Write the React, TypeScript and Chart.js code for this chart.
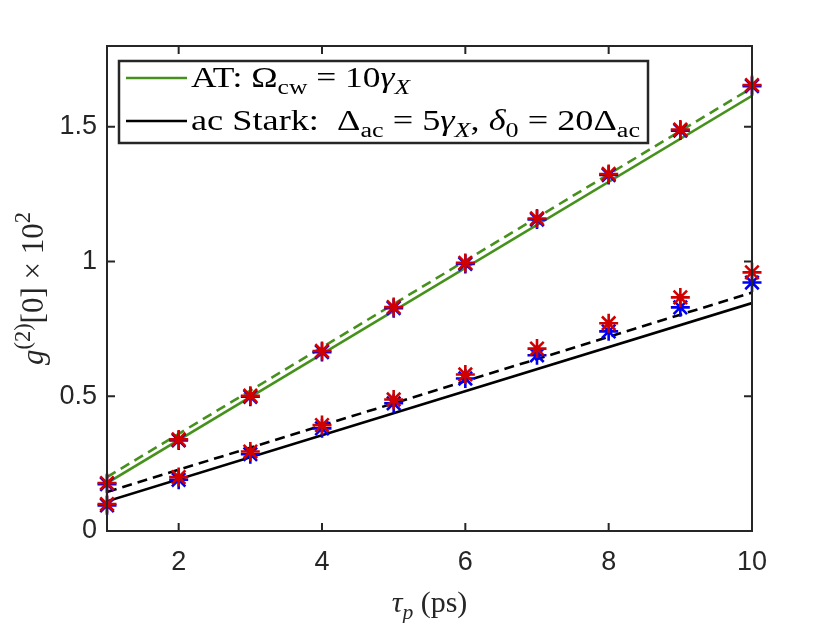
import React, { useEffect, useRef } from "react";
import { Chart, registerables } from "chart.js";

Chart.register(...registerables);

// ---------- data ----------
const tau = [1, 2, 3, 4, 5, 6, 7, 8, 9, 10];
const atRed = [0.178, 0.34, 0.502, 0.668, 0.831, 0.995, 1.16, 1.325, 1.49, 1.655];
const atBlue = [0.174, 0.336, 0.498, 0.664, 0.827, 0.991, 1.156, 1.321, 1.486, 1.651];
const acRed = [0.1, 0.2, 0.295, 0.393, 0.488, 0.581, 0.677, 0.771, 0.867, 0.96];
const acBlue = [0.095, 0.19, 0.285, 0.381, 0.474, 0.566, 0.652, 0.741, 0.83, 0.922];
const lineX = [1, 10];
const atSolid = [0.178, 1.615];
const atDashed = [0.2, 1.645];
const acSolid = [0.11, 0.846];
const acDashed = [0.145, 0.885];
const xTicks = [2, 4, 6, 8, 10];
const yTicks = [0, 0.5, 1, 1.5];

// rich text segments: [text, flags] flags: i=italic, b=subscript, p=superscript
type Seg = [string, string];
const EQ = " = ";
const legendRows: Seg[][] = [
  [["AT: Ω", ""], ["cw", "b"], [EQ + "10", ""], ["γ", "i"], ["X", "ib"]],
  [
    ["ac Stark:\u2002Δ", ""], ["ac", "b"], [EQ + "5", ""], ["γ", "i"], ["X", "ib"],
    [", ", ""], ["δ", "i"], ["0", "b"], [EQ + "20Δ", ""], ["ac", "b"],
  ],
];
const yLabel: Seg[] = [["g", "i"], ["(2)", "p"], ["[0] × 10", ""], ["2", "p"]];
const xLabel: Seg[] = [["τ", "i"], ["p", "ib"], ["\u2005(ps)", ""]];

const GREEN = "#46911c";
const BLACK = "#000000";
const RED = "#d10000";
const BLUE = "#0000f0";
const AXIS = "#262626";
const SERIF = "'Liberation Serif', 'DejaVu Serif', serif";
const SANS = "'Liberation Sans', Arial, sans-serif";

function segFont(flags: string, size: number) {
  const s = flags.includes("b") || flags.includes("p") ? size * 0.72 : size;
  return `${flags.includes("i") ? "italic " : ""}${s}px ${SERIF}`;
}

function drawRich(
  ctx: CanvasRenderingContext2D,
  segs: Seg[],
  x: number,
  y: number,
  size: number,
  align: "left" | "center",
  targetWidth = 0
) {
  let total = 0;
  for (const [t, f] of segs) {
    ctx.font = segFont(f, size);
    total += ctx.measureText(t).width;
  }
  const sx = targetWidth > 0 ? targetWidth / total : 1;
  ctx.save();
  ctx.translate(x, y);
  ctx.scale(sx, 1);
  let cx = align === "center" ? -total / 2 : 0;
  ctx.textBaseline = "alphabetic";
  ctx.textAlign = "left";
  for (const [t, f] of segs) {
    ctx.font = segFont(f, size);
    let dy = 0;
    if (f.includes("b")) dy = size * 0.22;
    if (f.includes("p")) dy = -size * 0.42;
    ctx.fillText(t, cx, dy);
    cx += ctx.measureText(t).width;
  }
  ctx.restore();
}

const framePlugin = {
  id: "frame",
  afterDraw(chart: any) {
    const ctx: CanvasRenderingContext2D = chart.ctx;
    const a = chart.chartArea;
    const xs = chart.scales.x;
    const ys = chart.scales.y;
    ctx.save();
    ctx.strokeStyle = AXIS;
    ctx.lineWidth = 2;
    ctx.strokeRect(a.left, a.top, a.right - a.left, a.bottom - a.top);
    const L = 8;
    ctx.beginPath();
    for (const v of xTicks) {
      const px = xs.getPixelForValue(v);
      ctx.moveTo(px, a.bottom);
      ctx.lineTo(px, a.bottom - L);
      ctx.moveTo(px, a.top);
      ctx.lineTo(px, a.top + L);
    }
    for (const v of yTicks) {
      const py = ys.getPixelForValue(v);
      ctx.moveTo(a.left, py);
      ctx.lineTo(a.left + L, py);
      ctx.moveTo(a.right, py);
      ctx.lineTo(a.right - L, py);
    }
    ctx.stroke();

    // axis titles
    ctx.fillStyle = AXIS;
    drawRich(ctx, xLabel, (a.left + a.right) / 2, 612, 30, "center");
    ctx.save();
    ctx.translate(43, (a.top + a.bottom) / 2);
    ctx.rotate(-Math.PI / 2);
    drawRich(ctx, yLabel, 0, 0, 31, "center");
    ctx.restore();

    // legend
    const lx = 119, ly = 61, lw = 529, lh = 82;
    ctx.fillStyle = "#ffffff";
    ctx.fillRect(lx, ly, lw, lh);
    ctx.strokeStyle = AXIS;
    ctx.lineWidth = 2.5;
    ctx.strokeRect(lx, ly, lw, lh);
    const rowY = [78, 121];
    const rowBase = [87, 130];
    const rowW = [219, 449];
    const rowColor = [GREEN, BLACK];
    for (let i = 0; i < 2; i++) {
      ctx.strokeStyle = rowColor[i];
      ctx.lineWidth = 2.5;
      ctx.beginPath();
      ctx.moveTo(126, rowY[i]);
      ctx.lineTo(187, rowY[i]);
      ctx.stroke();
      ctx.fillStyle = "#000000";
      drawRich(ctx, legendRows[i], 191, rowBase[i], 30, "left", rowW[i]);
    }
    ctx.restore();
  },
};

function pts(ys: number[], xs: number[] = tau) {
  return xs.map((x, i) => ({ x, y: ys[i] }));
}

export default function App() {
  const ref = useRef<HTMLCanvasElement>(null);
  useEffect(() => {
    if (!ref.current) return;
    const star = (data: number[], color: string, order: number) => ({
      type: "line" as const,
      data: pts(data),
      showLine: false,
      pointStyle: "star",
      pointRadius: 9.5,
      pointBorderWidth: 2.6,
      pointBorderColor: color,
      pointBackgroundColor: color,
      borderColor: color,
      clip: false,
      order,
    });
    const ln = (data: number[], color: string, dashed: boolean) => ({
      type: "line" as const,
      data: pts(data, lineX),
      borderColor: color,
      borderWidth: 2.6,
      borderDash: dashed ? [10, 6] : [],
      pointRadius: 0,
      fill: false,
      order: 5,
    });
    const chart = new Chart(ref.current, {
      type: "line",
      data: {
        datasets: [
          ln(atSolid, GREEN, false),
          ln(atDashed, GREEN, true),
          ln(acSolid, BLACK, false),
          ln(acDashed, BLACK, true),
          star(atBlue, BLUE, 3),
          star(acBlue, BLUE, 3),
          star(atRed, RED, 1),
          star(acRed, RED, 1),
        ] as any,
      },
      options: {
        animation: false,
        responsive: false,
        layout: { padding: { left: 0, top: 46, right: 78, bottom: 0 } },
        plugins: { legend: { display: false }, tooltip: { enabled: false } },
        scales: {
          x: {
            type: "linear",
            min: 1,
            max: 10,
            afterBuildTicks: (s: any) => {
              s.ticks = xTicks.map((v) => ({ value: v }));
            },
            afterFit: (s: any) => {
              s.height = 92;
            },
            grid: { display: false, drawTicks: false },
            border: { display: false },
            ticks: {
              color: AXIS,
              font: { family: SANS, size: 27 },
              padding: 15,
              maxRotation: 0,
              autoSkip: false,
              callback: (v: any) => String(v),
            },
          },
          y: {
            type: "linear",
            min: 0,
            max: 1.8,
            afterBuildTicks: (s: any) => {
              s.ticks = yTicks.map((v) => ({ value: v }));
            },
            afterFit: (s: any) => {
              s.width = 107;
            },
            grid: { display: false, drawTicks: false },
            border: { display: false },
            ticks: {
              color: AXIS,
              font: { family: SANS, size: 27 },
              padding: 10,
              autoSkip: false,
              callback: (v: any) => String(v),
            },
          },
        },
      },
      plugins: [framePlugin],
    });
    return () => chart.destroy();
  }, []);
  return (
    <div style={{ position: "absolute", left: 0, top: 0, width: 830, height: 623, background: "#fff" }}>
      <canvas ref={ref} width={830} height={623} />
    </div>
  );
}
